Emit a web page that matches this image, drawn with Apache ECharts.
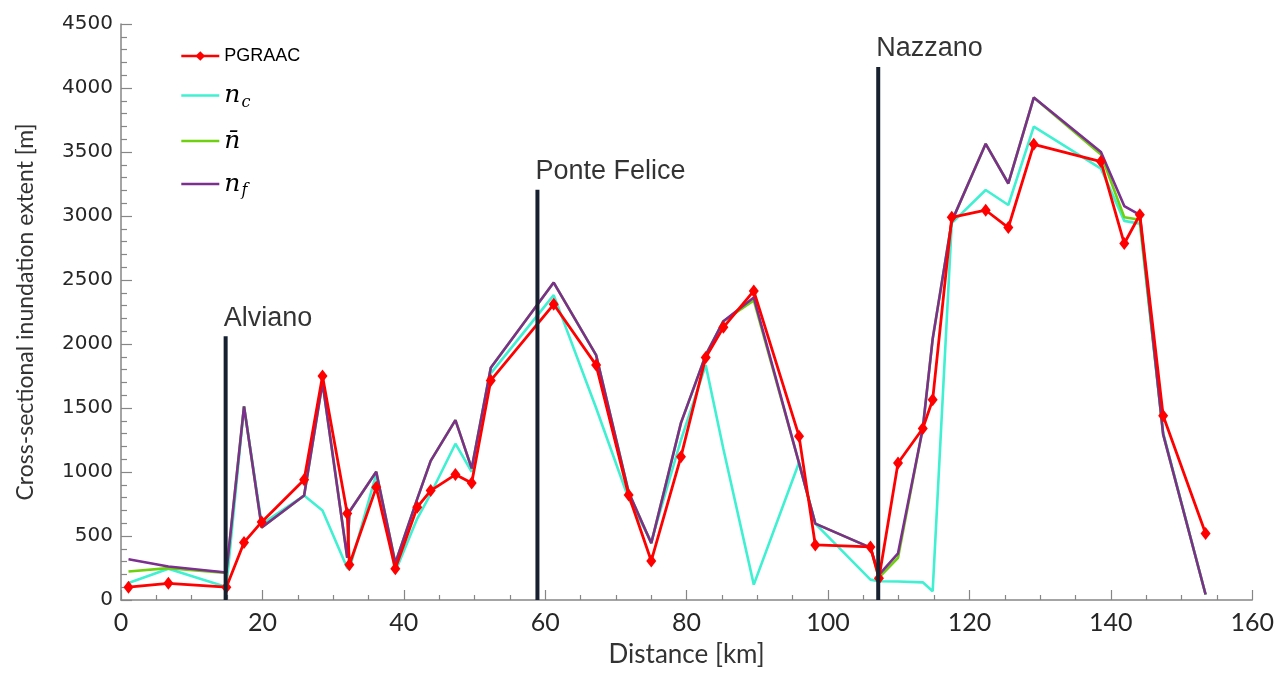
<!DOCTYPE html>
<html>
<head>
<meta charset="utf-8">
<script src="https://cdn.jsdelivr.net/npm/echarts@6/dist/echarts.min.js"></script>
<style>
  html, body { margin: 0; padding: 0; background: #ffffff; }
  #chart { width: 1277px; height: 673px; }
</style>
</head>
<body>
<div id="chart"></div>
<script>
// River cross-sections (distance along the reach, km)
const distanceKm = [1.06, 6.7, 14.9, 17.4, 19.9, 25.9, 28.5, 32.0, 32.3, 36.1,
  38.8, 41.9, 43.8, 47.3, 49.6, 52.3, 61.2, 67.2, 71.8, 75.0,
  79.2, 82.7, 85.2, 89.5, 95.9, 98.2, 106.0, 107.2, 109.9, 113.4,
  114.8, 117.5, 122.3, 125.5, 129.1, 138.6, 141.9, 144.1, 147.4, 153.4];

// Cross-sectional inundation extent (m)
const pgraac = [100, 130, 100, 450, 610, 940, 1750, 675, 275, 880,
  245, 725, 855, 980, 915, 1715, 2310, 1835, 820, 305,
  1120, 1895, 2130, 2415, 1280, 430, 415, 170, 1070, 1340,
  1565, 2990, 3045, 2910, 3560, 3425, 2785, 3010, 1440, 520];

const nC = [133, 244, 102, 1510, 594, 816, 700, 250, 240, 984,
  223, 636, 830, 1221, 1002, 1771, 2382, 1500, 791, 455,
  1250, 1835, 1180, 120, 1074, 597, 159, 146, 145, 138,
  68, 2944, 3203, 3086, 3698, 3370, 2962, 2939, 1306, 43];

const nBar = [223, 249, 212, 1513, 566, 816, 1699, 330, 690, 1002,
  288, 790, 1087, 1405, 1028, 1815, 2480, 1913, 842, 443,
  1384, 1913, 2178, 2340, 1070, 597, 409, 175, 330, 1340,
  2040, 2958, 3564, 3254, 3925, 3480, 2990, 2970, 1294, 43];

const nF = [319, 262, 215, 1513, 566, 816, 1699, 330, 690, 1002,
  288, 790, 1087, 1405, 1028, 1815, 2480, 1913, 842, 443,
  1384, 1913, 2178, 2364, 1070, 597, 409, 197, 365, 1340,
  2040, 2958, 3564, 3254, 3925, 3500, 3078, 3009, 1294, 43];

// Landmarks along the reach
const landmarkNames = ['Alviano', 'Ponte Felice', 'Nazzano'];
const landmarkKm = [14.8, 58.9, 107.1];
const landmarkTop = [2060, 3205, 4165];

// Axis ranges: [min, max, interval]
const xRange = [0, 160, 20];
const yRange = [0, 4500, 500];

const pairs = ys => distanceKm.map((x, i) => [x, ys[i]]);

const chart = echarts.init(document.getElementById('chart'), null, { renderer: 'canvas' });

const legendText = {
  PGRAAC: '{p|PGRAAC}',
  n_c: '{n|n}{s|c}',
  n_bar: '{n|n\u0304}',
  n_f: '{n|n}{s|f}'
};

const lineSeries = (name, data, color, width, z) => ({
  name: name,
  type: 'line',
  data: pairs(data),
  symbol: 'none',
  z: z,
  lineStyle: { color: color, width: width },
  itemStyle: { color: color },
  emphasis: { disabled: true },
  animation: false
});

// Vertical marker line for each landmark
const landmarkLines = landmarkNames.map((nm, i) => ({
  name: nm,
  type: 'line',
  symbol: 'none',
  z: 10,
  animation: false,
  lineStyle: { color: '#17202f', width: 4 },
  data: [[landmarkKm[i], yRange[0]], [landmarkKm[i], landmarkTop[i]]],
  emphasis: { disabled: true }
}));

// Landmark names written above the top of each marker line
const landmarkLabels = {
  name: 'landmarks',
  type: 'scatter',
  z: 11,
  animation: false,
  symbolSize: 1,
  itemStyle: { color: 'rgba(0,0,0,0)' },
  data: landmarkNames.map((nm, i) => [landmarkKm[i], landmarkTop[i], nm]),
  label: {
    show: true,
    formatter: p => p.data[2],
    position: 'top',
    align: 'left',
    distance: 4,
    offset: [-2, 0],
    color: '#000000',
    fontFamily: 'Liberation Sans, Arial, sans-serif',
    fontSize: 27
  },
  emphasis: { disabled: true }
};

const plainLegendItem = name => ({ name: name, itemStyle: { opacity: 0 } });

const option = {
  backgroundColor: '#ffffff',
  animation: false,
  grid: { left: 121, right: 20, top: 24, bottom: 67, containLabel: false },
  legend: {
    data: [
      { name: 'PGRAAC' },
      plainLegendItem('n_c'),
      plainLegendItem('n_bar'),
      plainLegendItem('n_f')
    ],
    orient: 'vertical',
    left: 175,
    top: 42,
    itemWidth: 38,
    itemHeight: 12,
    itemGap: 18,
    formatter: name => legendText[name],
    lineStyle: { width: 2.6 },
    textStyle: {
      color: '#000000',
      rich: {
        p: { fontFamily: 'Liberation Sans, Arial, sans-serif', fontSize: 18, color: '#000', lineHeight: 26 },
        n: { fontFamily: 'DejaVu Serif, serif', fontStyle: 'italic', fontSize: 25, color: '#000', lineHeight: 26 },
        s: { fontFamily: 'DejaVu Serif, serif', fontStyle: 'italic', fontSize: 16, color: '#000', padding: [14, 0, 0, 1] }
      }
    }
  },
  xAxis: {
    type: 'value',
    min: xRange[0],
    max: xRange[1],
    interval: xRange[2],
    name: 'Distance [km]',
    nameLocation: 'middle',
    nameGap: 42,
    nameTextStyle: { fontFamily: 'Lato, sans-serif', fontSize: 26, color: '#333333' },
    axisLine: { show: true, lineStyle: { color: '#868686', width: 1.5 } },
    axisTick: { show: true, inside: true, length: 10, lineStyle: { color: '#868686', width: 1.2 } },
    minorTick: { show: true, splitNumber: 4, length: 5, lineStyle: { color: '#868686', width: 1.2 } },
    axisLabel: { fontFamily: 'Liberation Sans Narrow, Lato, sans-serif', fontSize: 25, color: '#262626', margin: 10 },
    splitLine: { show: false }
  },
  yAxis: {
    type: 'value',
    min: yRange[0],
    max: yRange[1],
    interval: yRange[2],
    name: 'Cross-sectional inundation extent [m]',
    nameLocation: 'middle',
    nameGap: 84,
    nameTextStyle: { fontFamily: 'Lato, sans-serif', fontSize: 23, color: '#333333' },
    axisLine: { show: true, lineStyle: { color: '#868686', width: 1.5 } },
    axisTick: { show: true, inside: true, length: 11, lineStyle: { color: '#868686', width: 1.2 } },
    minorTick: { show: true, splitNumber: 5, length: 6, lineStyle: { color: '#868686', width: 1.2 } },
    axisLabel: {
      fontFamily: 'DejaVu Sans, sans-serif', fontSize: 20, color: '#262626', margin: 8,
      formatter: v => String(v)
    },
    splitLine: { show: false }
  },
  series: [
    lineSeries('n_c', nC, '#3ff0d2', 2.6, 2),
    lineSeries('n_bar', nBar, '#6fd00f', 2.6, 3),
    lineSeries('n_f', nF, '#7b2f8e', 2.6, 4),
    {
      name: 'PGRAAC',
      type: 'line',
      data: pairs(pgraac),
      symbol: 'diamond',
      symbolSize: [10, 13],
      z: 5,
      lineStyle: { color: '#ff0000', width: 2.8 },
      itemStyle: { color: '#ff0000' },
      emphasis: { disabled: true },
      animation: false
    },
    ...landmarkLines,
    landmarkLabels
  ]
};

chart.setOption(option);
</script>
</body>
</html>
